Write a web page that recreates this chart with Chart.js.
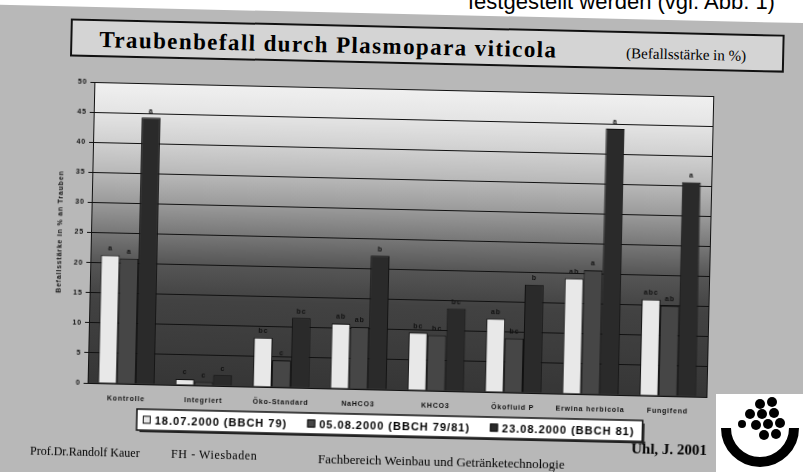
<!DOCTYPE html>
<html>
<head>
<meta charset="utf-8">
<script src="https://cdn.jsdelivr.net/npm/chart.js@4"></script>
<style>
  html, body { margin: 0; padding: 0; background: #fff; }
  #page { position: relative; width: 803px; height: 472px; overflow: hidden; background: #fff; }
  #topline { position: absolute; left: 468px; top: -9px; font: 22px "Liberation Sans", Arial, sans-serif; line-height: 22px; color: #000; white-space: nowrap; }
  #slide { position: absolute; left: 0; top: 0; width: 803px; height: 472px; transform: rotate(1.3deg); transform-origin: 401px 236px; }
  #slidebg { position: absolute; left: -40px; top: 14px; width: 883px; height: 520px; background: #b8b8b8; }
  #titlebox { position: absolute; left: 66px; top: 26px; width: 710px; height: 34px; border: 2px solid #111; background: #d4d4d4; }
  .t { position: absolute; white-space: nowrap; color: #000; font-family: "Liberation Serif", "Times New Roman", serif; }
  #title { left: 95px; top: 35px; font-size: 23px; line-height: 23px; font-weight: bold; letter-spacing: 1.4px; }
  #subtitle { left: 622px; top: 41px; font-size: 15px; line-height: 15px; }
  #prof { left: 35px; top: 453px; font-size: 12px; line-height: 12px; }
  #fh { left: 176px; top: 453px; font-size: 12px; line-height: 12px; letter-spacing: 0.6px; }
  #fach { left: 323px; top: 454px; font-size: 13px; line-height: 13px; }
  #uhl { left: 636px; top: 436px; font-size: 15px; line-height: 15px; font-weight: bold; }
  canvas { position: absolute; left: 0; top: 0; }
  #logo { position: absolute; left: 716px; top: 394px; }
</style>
</head>
<body>
<div id="page">
  <div id="topline">festgestellt werden (vgl. Abb. 1)</div>
  <div id="slide">
    <div id="slidebg"></div>
    <div id="titlebox"></div>
    <div class="t" id="title">Traubenbefall durch Plasmopara viticola</div>
    <div class="t" id="subtitle">(Befallsstärke in %)</div>
    <canvas id="befallChart" width="803" height="472"></canvas>
    <div class="t" id="prof">Prof.Dr.Randolf Kauer</div>
    <div class="t" id="fh">FH - Wiesbaden</div>
    <div class="t" id="fach">Fachbereich Weinbau und Getränketechnologie</div>
    <div class="t" id="uhl">Uhl, J. 2001</div>
  </div>
  <svg id="logo" width="87" height="78" viewBox="0 0 87 78">
    <rect x="0" y="0" width="87" height="78" fill="#fff"/>
    <path d="M 10 34 A 33 33 0 0 0 78 34" fill="none" stroke="#000" stroke-width="10"/>
    <g fill="#000">
      <circle cx="44" cy="10" r="5"/>
      <circle cx="56" cy="8" r="5"/>
      <circle cx="34" cy="20" r="5"/>
      <circle cx="46" cy="20" r="5"/>
      <circle cx="58" cy="19" r="5"/>
      <circle cx="40" cy="31" r="5"/>
      <circle cx="52" cy="30" r="5"/>
      <circle cx="64" cy="29" r="5"/>
      <circle cx="48" cy="41" r="5"/>
      <circle cx="60" cy="40" r="5"/>
      <circle cx="26" cy="30" r="4"/>
    </g>
  </svg>
</div>

<script>
const categories = ["Kontrolle", "Integriert", "Öko-Standard", "NaHCO3", "KHCO3", "Ökofluid P", "Erwina herbicola", "Fungifend"];

const seriesNames = ["18.07.2000 (BBCH 79)", "05.08.2000 (BBCH 79/81)", "23.08.2000 (BBCH 81)"];

const july18 = [21.3, 1.0, 8.2, 10.8, 9.6, 12.2, 19.2, 16.0];
const aug05 = [20.8, 0.6, 4.5, 10.3, 9.2, 9.0, 20.6, 15.0];
const aug23 = [44.3, 1.8, 11.6, 22.2, 13.7, 18.0, 44.2, 35.6];

// Signifikanz-Buchstaben über den Säulen
const sigJuly18 = ["a", "c", "bc", "ab", "bc", "ab", "ab", "abc"];
const sigAug05 = ["a", "c", "c", "ab", "bc", "bc", "a", "ab"];
const sigAug23 = ["a", "c", "bc", "b", "bc", "b", "a", "a"];

const yTicks = [0, 5, 10, 15, 20, 25, 30, 35, 40, 45, 50];

const barColors = ["#e8e8e8", "#464646", "#2a2a2a"];
const sigLetters = [sigJuly18, sigAug05, sigAug23];

const plotBackground = {
    id: "plotBackground",
    beforeLayout(chart) {
        chart.ctx.letterSpacing = "0.8px";
    },
    beforeDraw(chart) {
        const { ctx, chartArea: a } = chart;
        ctx.letterSpacing = "0.8px";
        const g = ctx.createLinearGradient(0, a.top, 0, a.bottom);
        g.addColorStop(0, "#f0f0f0");
        g.addColorStop(0.1, "#e4e4e4");
        g.addColorStop(0.2, "#d0d0d0");
        g.addColorStop(0.3, "#b8b8b8");
        g.addColorStop(0.4, "#9a9a9a");
        g.addColorStop(0.5, "#777777");
        g.addColorStop(0.6, "#555555");
        g.addColorStop(0.72, "#424242");
        g.addColorStop(1, "#363636");
        ctx.save();
        ctx.fillStyle = g;
        ctx.fillRect(a.left, a.top, a.right - a.left, a.bottom - a.top);
        ctx.restore();
    },
    afterDraw(chart) {
        const { ctx, chartArea: a } = chart;
        ctx.save();
        ctx.strokeStyle = "#111";
        ctx.lineWidth = 1;
        ctx.beginPath();
        ctx.moveTo(a.right + 0.5, a.top);
        ctx.lineTo(a.right + 0.5, a.bottom);
        ctx.stroke();
        ctx.restore();
    }
};

const sigLabels = {
    id: "sigLabels",
    afterDatasetsDraw(chart) {
        const ctx = chart.ctx;
        ctx.save();
        ctx.font = "bold 7px Arial";
        ctx.fillStyle = "#111";
        ctx.textAlign = "center";
        ctx.textBaseline = "bottom";
        ctx.letterSpacing = "1px";
        chart.data.datasets.forEach((ds, i) => {
            chart.getDatasetMeta(i).data.forEach((bar, j) => {
                ctx.fillText(sigLetters[i][j], bar.x, bar.y - 3);
            });
        });
        ctx.restore();
    }
};

const slideLegend = {
    id: "slideLegend",
    afterDraw(chart) {
        const { ctx, chartArea: a } = chart;
        ctx.save();
        ctx.font = "bold 11px Arial";
        ctx.letterSpacing = "1px";
        const box = 8, gap = 4, sep = 20;
        const left = a.left + 50;
        const top = a.bottom + 25;
        const h = 21;
        let width = 14;
        chart.data.datasets.forEach((ds, i) => {
            width += box + gap + ctx.measureText(ds.label).width + (i > 0 ? sep : 0);
        });
        ctx.fillStyle = "#fff";
        ctx.fillRect(left, top, width, h);
        ctx.strokeStyle = "#111";
        ctx.lineWidth = 1.5;
        ctx.strokeRect(left, top, width, h);
        ctx.fillStyle = "#222";
        ctx.fillRect(left + width, top + 3, 2, h);
        ctx.fillRect(left + 3, top + h, width, 2);

        let x = left + 6;
        const cy = top + h / 2;
        ctx.textBaseline = "middle";
        chart.data.datasets.forEach((ds) => {
            ctx.fillStyle = ds.backgroundColor;
            ctx.fillRect(x, cy - 4, box, box);
            ctx.strokeStyle = "#111";
            ctx.lineWidth = 1;
            ctx.strokeRect(x + 0.5, cy - 3.5, box - 1, box - 1);
            x += box + gap;
            ctx.fillStyle = "#000";
            ctx.fillText(ds.label, x, cy + 1);
            x += ctx.measureText(ds.label).width + sep;
        });
        ctx.restore();
    }
};

const ctx = document.getElementById("befallChart").getContext("2d");

new Chart(ctx, {
    type: "bar",
    data: {
        labels: categories,
        datasets: [
            { label: seriesNames[0], data: july18, backgroundColor: barColors[0] },
            { label: seriesNames[1], data: aug05, backgroundColor: barColors[1] },
            { label: seriesNames[2], data: aug23, backgroundColor: barColors[2] }
        ]
    },
    options: {
        responsive: false,
        animation: false,
        devicePixelRatio: 1,
        datasets: {
            bar: {
                categoryPercentage: 0.73,
                barPercentage: 1,
                borderColor: "#111",
                borderWidth: 1
            }
        },
        layout: { padding: { left: 54, right: 93, top: 89, bottom: 62 } },
        plugins: {
            legend: { display: false },
            tooltip: { enabled: false }
        },
        scales: {
            x: {
                grid: { display: false },
                border: { display: true, color: "#111", width: 1 },
                ticks: {
                    color: "#111",
                    font: { family: "Arial", size: 7, weight: "bold" },
                    padding: 3,
                    maxRotation: 0,
                    autoSkip: false
                },
                afterFit(scale) { scale.height = 20; }
            },
            y: {
                min: 0,
                max: 50,
                afterBuildTicks(scale) {
                    scale.ticks = yTicks.map(v => ({ value: v }));
                },
                grid: { color: "#111", lineWidth: 1, tickLength: 4 },
                border: { display: true, color: "#111", width: 1 },
                ticks: {
                    color: "#111",
                    font: { family: "Arial", size: 7, weight: "bold" },
                    padding: 3
                },
                title: {
                    display: true,
                    text: "Befallsstärke in % an Trauben",
                    color: "#111",
                    font: { family: "Arial", size: 7, weight: "bold" },
                    padding: 2
                },
                afterFit(scale) { scale.width = 37; }
            }
        }
    },
    plugins: [plotBackground, sigLabels, slideLegend]
});
</script>
</body>
</html>
